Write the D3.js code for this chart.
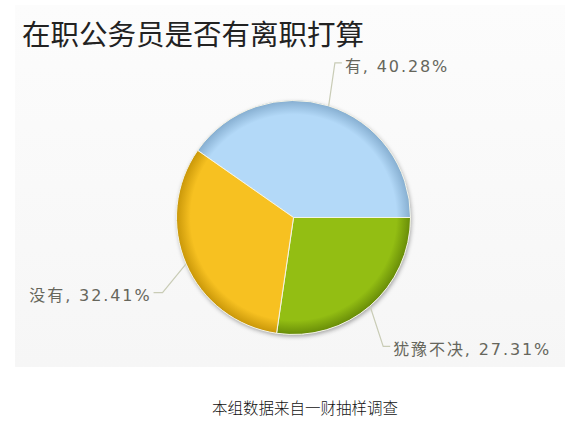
<!DOCTYPE html>
<html>
<head>
<meta charset="utf-8">
<script src="https://cdn.jsdelivr.net/npm/d3@7"></script>
<style>
html,body{margin:0;padding:0;background:#fff;}
svg{display:block;}
</style>
</head>
<body>
<svg id="chart" width="578" height="427"></svg>
<script>
// ---- data ----
const categories = ["有", "犹豫不决", "没有"];
const values = [40.28, 27.31, 32.41];
const colors = ["#b3d9f8", "#93be13", "#f7c121"];
const rimColors = ["#86aed0", "#688c08", "#c99709"];
const title = "在职公务员是否有离职打算";
const caption = "本组数据来自一财抽样调查";

// ---- layout ----
const W = 578, H = 427;
const cx = 293.5, cy = 217.5, R = 117;
// label elbow placement: angle tweak (deg) and distance beyond rim
const labelLayout = { "有": [-2.5, 43], "犹豫不决": [6, 40], "没有": [-6.5, 34] };

const svg = d3.select("#chart");
const defs = svg.append("defs");

// panel background
const bg = defs.append("linearGradient").attr("id", "bg").attr("x1", 0).attr("y1", 0).attr("x2", 0).attr("y2", 1);
bg.append("stop").attr("offset", 0).attr("stop-color", "#fcfcfc");
bg.append("stop").attr("offset", 1).attr("stop-color", "#f6f6f6");
svg.append("rect").attr("x", 15).attr("y", 5).attr("width", 550).attr("height", 362)
  .attr("fill", "url(#bg)");

// title
svg.append("text").attr("x", 22).attr("y", 45)
  .attr("font-family", "'Noto Sans CJK SC', sans-serif")
  .attr("font-size", 28.5).attr("fill", "#222").text(title);

// shadow filter
const f = defs.append("filter").attr("id", "shadow").attr("x", "-20%").attr("y", "-20%").attr("width", "140%").attr("height", "140%");
f.append("feDropShadow").attr("dx", 1).attr("dy", 2).attr("stdDeviation", 2)
  .attr("flood-color", "#000").attr("flood-opacity", 0.35);

// radial gradients per slice (user space of the translated pie group)
colors.forEach((c, i) => {
  const g = defs.append("radialGradient").attr("id", "g" + i)
    .attr("gradientUnits", "userSpaceOnUse")
    .attr("cx", 0).attr("cy", 0).attr("fx", 0).attr("fy", 0).attr("r", R);
  g.append("stop").attr("offset", 0).attr("stop-color", c);
  g.append("stop").attr("offset", 0.88).attr("stop-color", c);
  g.append("stop").attr("offset", 1).attr("stop-color", rimColors[i]);
});

const total = d3.sum(values);
const start = Math.PI / 2 - (values[0] / total) * 2 * Math.PI;
const pie = d3.pie().sort(null).value(d => d.v)
  .startAngle(start).endAngle(start + 2 * Math.PI);
const data = categories.map((name, i) => ({ name, v: values[i], i }));
const arcs = pie(data);
const arc = d3.arc().innerRadius(0).outerRadius(R);

const gPie = svg.append("g").attr("transform", `translate(${cx},${cy})`);
gPie.append("circle").attr("r", R).attr("fill", "#ccc").attr("filter", "url(#shadow)");
gPie.selectAll("path.slice").data(arcs).join("path")
  .attr("class", "slice")
  .attr("d", arc)
  .attr("fill", d => `url(#g${d.data.i})`)
  .attr("stroke", "#f4f4e8").attr("stroke-width", 1).attr("stroke-linejoin", "round");

// labels + connectors
const gLab = svg.append("g");
arcs.forEach(d => {
  const mid = (d.startAngle + d.endAngle) / 2;
  const [dA, dist] = labelLayout[d.data.name];
  const edge = [cx + R * Math.sin(mid), cy - R * Math.cos(mid)];
  const a2 = mid + dA * Math.PI / 180;
  const elbow = [cx + (R + dist) * Math.sin(a2), cy - (R + dist) * Math.cos(a2)];
  const right = Math.sin(mid) > 0;
  const s = right ? 1 : -1;
  const tail = [elbow[0] + s * (right ? 7 : 9), elbow[1]];
  gLab.append("path")
    .attr("d", d3.line()([edge, elbow, tail]))
    .attr("fill", "none").attr("stroke", "#c9ccb6").attr("stroke-width", 1.2);
  gLab.append("text")
    .attr("x", tail[0] + s * (right ? 3 : 2)).attr("y", elbow[1] + 3)
    .attr("dy", "0.35em")
    .attr("text-anchor", right ? "start" : "end")
    .attr("font-family", "'DejaVu Sans', 'Noto Sans CJK SC', sans-serif")
    .attr("font-size", 16).attr("letter-spacing", 1.9)
    .attr("fill", "#66665c")
    .text(`${d.data.name}, ${d.data.v.toFixed(2)}%`);
});

// caption
svg.append("text").attr("x", 305).attr("y", 414)
  .attr("text-anchor", "middle")
  .attr("font-family", "'Noto Sans CJK SC', serif")
  .attr("font-weight", 300)
  .attr("font-size", 15.5).attr("fill", "#111").text(caption);
</script>
</body>
</html>
